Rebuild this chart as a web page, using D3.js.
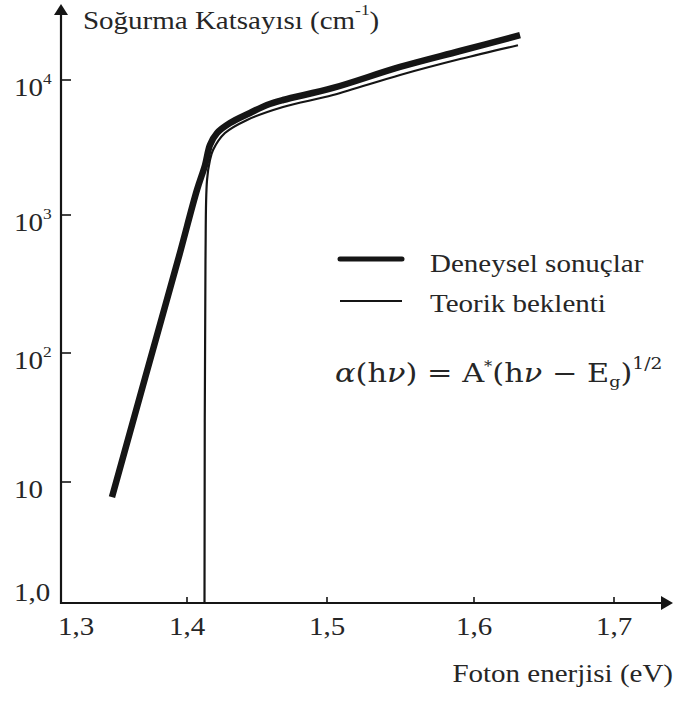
<!DOCTYPE html>
<html>
<head>
<meta charset="utf-8">
<script src="https://cdn.jsdelivr.net/npm/d3@7"></script>
<style>
  html, body { margin: 0; padding: 0; background: #fff; }
  svg { display: block; }
  text { font-family: "Liberation Serif", "Times New Roman", serif; fill: #262626; }
</style>
</head>
<body>
<script>
// ---------- data ----------
const xTicks = [1.3, 1.4, 1.5, 1.6, 1.7];
const xTickLabels = ["1,3", "1,4", "1,5", "1,6", "1,7"];
const xTickMarks = [1.4, 1.5, 1.6, 1.7];

const yTicks = [1, 10, 100, 1000, 10000];
const yTickBase = ["1,0", "10", "10", "10", "10"];
const yTickExp = ["", "", "2", "3", "4"];

// Deneysel sonuçlar (experimental)
const expX = [1.3324, 1.3625, 1.3919, 1.4071, 1.4129, 1.4164, 1.4214, 1.4307, 1.445, 1.4571, 1.4686, 1.5041, 1.5497, 1.5905, 1.6329];
const expY = [7.5, 65.2, 472, 1531, 2345, 3300, 4045, 4800, 5700, 6530, 7110, 8730, 12500, 16400, 21500];

// Teorik beklenti (theoretical)
const theoX = [1.4125, 1.4132, 1.4143, 1.4164, 1.4186, 1.4271, 1.4429, 1.4686, 1.5041, 1.5497, 1.5905, 1.6314];
const theoY = [1, 472, 1815, 2550, 3030, 4045, 5060, 6310, 7740, 10900, 14300, 18100];

const legendLabels = ["Deneysel sonuçlar", "Teorik beklenti"];
const yTitle = "Soğurma Katsayısı (cm";
const xTitle = "Foton enerjisi (eV)";

// ---------- layout ----------
const W = 678, H = 705;
const SX = 1.16; // horizontal stretch of the scanned lettering
const ink = "#151515";

const svg = d3.select("body").append("svg").attr("width", W).attr("height", H);

const x = d3.scaleLinear().domain(xTicks).range([76, 187, 327, 474, 614]);
const y = d3.scaleLog().domain(yTicks).range([603, 482, 353, 215, 80]);

const x0 = 61, y0 = 603;

function label(px, py, anchor) {
  return svg.append("g").attr("transform", `translate(${px},${py}) scale(${SX},1)`)
    .append("text").attr("text-anchor", anchor || "start").attr("font-size", 25);
}

// axes
svg.append("line").attr("x1", x0).attr("x2", x0).attr("y1", y0 + 1).attr("y2", 12)
  .attr("stroke", ink).attr("stroke-width", 2.2);
svg.append("path").attr("d", `M${x0},4 L${x0 - 7},15 L${x0 + 7},15 Z`).attr("fill", ink);
svg.append("line").attr("x1", x0 - 1).attr("x2", 664).attr("y1", y0).attr("y2", y0)
  .attr("stroke", ink).attr("stroke-width", 2.2);
svg.append("path").attr("d", `M673,${y0} L661,${y0 - 7} L661,${y0 + 7} Z`).attr("fill", ink);

// x ticks
svg.selectAll(".xt").data(xTickMarks).join("line")
  .attr("x1", d => x(d)).attr("x2", d => x(d))
  .attr("y1", y0).attr("y2", y0 - 6)
  .attr("stroke", ink).attr("stroke-width", 1.6);
xTicks.forEach((v, i) => {
  label(x(v), 635, "middle").text(xTickLabels[i]);
});

// y ticks
svg.selectAll(".yt").data(yTicks.slice(1)).join("line")
  .attr("x1", x0).attr("x2", x0 + 10)
  .attr("y1", d => y(d)).attr("y2", d => y(d))
  .attr("stroke", ink).attr("stroke-width", 1.6);
yTicks.forEach((v, i) => {
  const py = i === 0 ? y(v) - 2 : y(v) + 16;
  const t = label(14, py, "start");
  t.append("tspan").text(yTickBase[i]);
  if (yTickExp[i]) t.append("tspan").attr("font-size", 15).attr("dy", -12).text(yTickExp[i]);
});

// titles
const tt = label(83, 29, "start");
tt.append("tspan").text(yTitle);
tt.append("tspan").attr("font-size", 15).attr("dy", -14).text("-1");
tt.append("tspan").attr("dy", 14).text(")");

label(673, 682, "end").text(xTitle);

// curves
const line = d3.line().x(d => x(d[0])).y(d => y(d[1])).curve(d3.curveCatmullRom.alpha(0.5));
const expData = expX.map((v, i) => [v, expY[i]]);
const theoData = theoX.map((v, i) => [v, theoY[i]]);

svg.append("path").attr("d", line(theoData)).attr("fill", "none")
  .attr("stroke", ink).attr("stroke-width", 2.2);
svg.append("path").attr("d", line(expData)).attr("fill", "none")
  .attr("stroke", ink).attr("stroke-width", 6.5).attr("stroke-linejoin", "round");

// legend
svg.append("line").attr("x1", 340).attr("x2", 402).attr("y1", 259).attr("y2", 259)
  .attr("stroke", ink).attr("stroke-width", 5).attr("stroke-linecap", "round");
svg.append("line").attr("x1", 340).attr("x2", 402).attr("y1", 301).attr("y2", 301)
  .attr("stroke", ink).attr("stroke-width", 1.8);
label(430, 272, "start").text(legendLabels[0]);
label(430, 312, "start").text(legendLabels[1]);

// formula
const f = svg.append("g").attr("transform", `translate(335,382) scale(1.17,1)`)
  .append("text").attr("font-size", 26).style("font-family", "'DejaVu Serif', serif");
f.append("tspan").attr("font-style", "italic").text("α");
f.append("tspan").text("(h");
f.append("tspan").attr("font-style", "italic").text("ν");
f.append("tspan").text(") = A");
f.append("tspan").attr("font-size", 14).attr("dy", -11).text("*");
f.append("tspan").attr("dy", 11).text("(h");
f.append("tspan").attr("font-style", "italic").text("ν");
f.append("tspan").text(" − E");
f.append("tspan").attr("font-size", 15).attr("dy", 5).text("g");
f.append("tspan").attr("dy", -5).text(")");
f.append("tspan").attr("font-size", 16).attr("dy", -13).text("1/2");
</script>
</body>
</html>
